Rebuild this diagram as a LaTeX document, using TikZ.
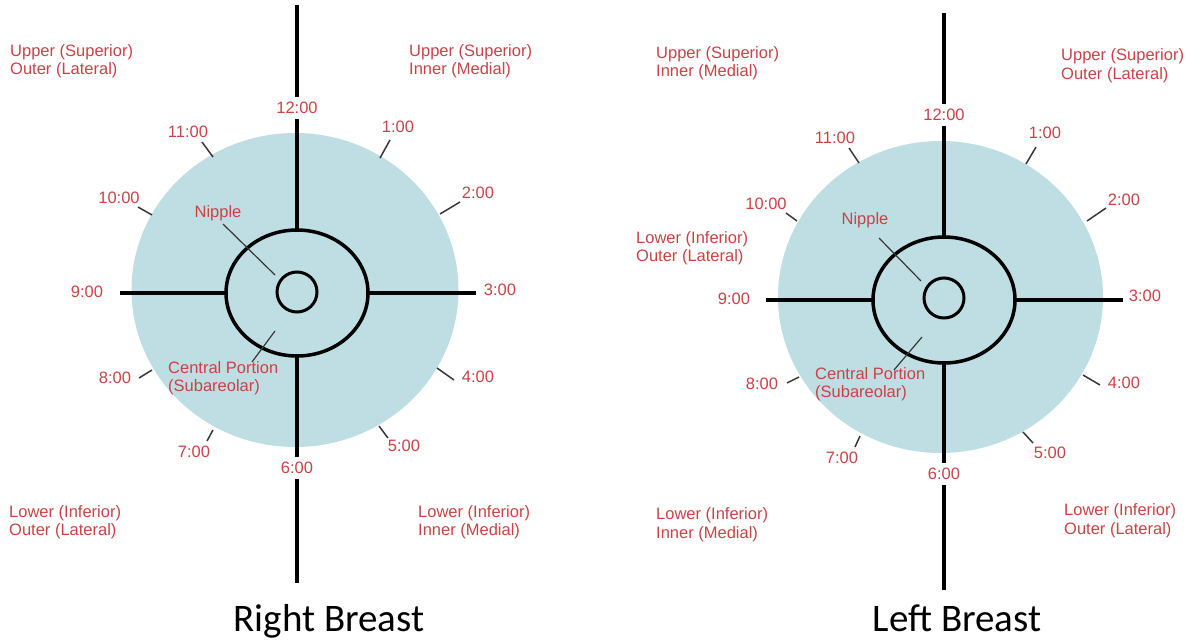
\documentclass[tikz,border=0pt]{standalone}
\usepackage{fontspec}
\setmainfont{Liberation Sans}
\newfontfamily\titlefont{Carlito}
\usetikzlibrary{shapes.geometric}
\definecolor{breastblue}{RGB}{190,222,228}
\definecolor{clockred}{RGB}{201,66,70}
\definecolor{tickgray}{RGB}{55,55,55}

\tikzset{
  lbl/.style={text=clockred, font=\fontsize{16.5}{18.5}\selectfont, inner sep=0pt},
  hour/.style={lbl, inner sep=4.5pt},
  zone/.style={lbl, align=left, anchor=west},
  axis/.style={line width=4pt, black},
  tickline/.style={line width=1.5pt, tickgray},
  leader/.style={line width=1.2pt, tickgray},
  disc/.style={ellipse, fill=breastblue, inner sep=0pt, outer sep=0pt},
  ring/.style={ellipse, draw=black, line width=3.5pt, inner sep=0pt, outer sep=0pt,
    minimum width=142pt, minimum height=126pt},
  nipple/.style={circle, draw=black, line width=3pt, inner sep=0pt, outer sep=0pt,
    minimum size=40pt},
  caption/.style={font=\titlefont\fontsize{39}{44}\selectfont, anchor=base}
}

\begin{document}
\begin{tikzpicture}[x=1pt, y=-1pt]
	\useasboundingbox (0,0) rectangle (1189,640);

	% right breast
	\node[disc, minimum width=327pt, minimum height=314pt] (rbdisc) at (295,290) {};
	\coordinate (rbtop) at (297,5);
	\coordinate (rbbot) at (297,583);
	\coordinate (rbwest) at (120,293);
	\coordinate (rbeast) at (476,293);
	\node[ring] (rbring) at (297,293) {};
	\node[nipple] (rbnip) at (297,292) {};
	\node[hour] (rb12) at (297,108) {12:00};
	\node[hour] (rb6) at (297,468) {6:00};
	\draw[axis] (rbtop) -- (rb12.north);
	\draw[axis] (rb12.south) -- (rbring.north);
	\draw[axis] (rbring.south) -- (rb6.north);
	\draw[axis] (rb6.south) -- (rbbot);
	\draw[axis] (rbwest) -- (rbring.west);
	\draw[axis] (rbring.east) -- (rbeast);

	\node[hour] (rb1) at (398,127) {1:00};
	\node[hour] (rb2) at (478,193) {2:00};
	\node[hour] (rb3) at (500,290) {3:00};
	\node[hour] (rb4) at (478,377) {4:00};
	\node[hour] (rb5) at (404,446) {5:00};
	\node[hour] (rb7) at (194,452) {7:00};
	\node[hour] (rb8) at (115,378) {8:00};
	\node[hour] (rb9) at (87,292) {9:00};
	\node[hour] (rb10) at (119,198) {10:00};
	\node[hour] (rb11) at (188,132) {11:00};
	\draw[tickline] (202,142) -- (213,157);
	\draw[tickline] (390,140) -- (380,158);
	\draw[tickline] (138,207) -- (152,215);
	\draw[tickline] (460,202) -- (440,214);
	\draw[tickline] (139,378) -- (152,370);
	\draw[tickline] (437,368) -- (454,380);
	\draw[tickline] (207,441) -- (213,430);
	\draw[tickline] (379,426) -- (388,438);

	\node[lbl] (rbniplbl) at (218,213) {Nipple};
	\coordinate (rbnipa) at (223,224);
	\coordinate (rbnipb) at (275,275);
	\draw[leader] (rbnipa) -- (rbnipb);
	\node[zone] (rbcentral) at (168,378) {Central Portion\\(Subareolar)};
	\coordinate (rbcena) at (252,362);
	\coordinate (rbcenb) at (275,331);
	\draw[leader] (rbcena) -- (rbcenb);

	\node[zone] (rbuo) at (10,61) {Upper (Superior)\\Outer (Lateral)};
	\node[zone] (rbui) at (409,61) {Upper (Superior)\\Inner (Medial)};
	\node[zone] (rblo) at (9,522) {Lower (Inferior)\\Outer (Lateral)};
	\node[zone] (rbli) at (418,522) {Lower (Inferior)\\Inner (Medial)};
	\node[caption] (rbtitle) at (329,631) {Right Breast};

	% left breast
	\node[disc, minimum width=325pt, minimum height=312pt] (lbdisc) at (940.5,297) {};
	\coordinate (lbtop) at (944,13);
	\coordinate (lbbot) at (944,590);
	\coordinate (lbwest) at (766,300);
	\coordinate (lbeast) at (1123,300);
	\node[ring] (lbring) at (944,300) {};
	\node[nipple] (lbnip) at (944,298) {};
	\node[hour] (lb12) at (944,115) {12:00};
	\node[hour] (lb6) at (944,474) {6:00};
	\draw[axis] (lbtop) -- (lb12.north);
	\draw[axis] (lb12.south) -- (lbring.north);
	\draw[axis] (lbring.south) -- (lb6.north);
	\draw[axis] (lb6.south) -- (lbbot);
	\draw[axis] (lbwest) -- (lbring.west);
	\draw[axis] (lbring.east) -- (lbeast);

	\node[hour] (lb1) at (1045,133) {1:00};
	\node[hour] (lb2) at (1124,200) {2:00};
	\node[hour] (lb3) at (1145,296) {3:00};
	\node[hour] (lb4) at (1124,383) {4:00};
	\node[hour] (lb5) at (1050,453) {5:00};
	\node[hour] (lb7) at (842,458) {7:00};
	\node[hour] (lb8) at (762,384) {8:00};
	\node[hour] (lb9) at (734,299) {9:00};
	\node[hour] (lb10) at (766,204) {10:00};
	\node[hour] (lb11) at (835,138) {11:00};
	\draw[tickline] (849,148) -- (859,163);
	\draw[tickline] (1036,147) -- (1026,164);
	\draw[tickline] (786,213) -- (797,221);
	\draw[tickline] (1106,208) -- (1087,221);
	\draw[tickline] (787,383) -- (799,377);
	\draw[tickline] (1083,375) -- (1100,385);
	\draw[tickline] (855,447) -- (860,436);
	\draw[tickline] (1023,432) -- (1033,443);

	\node[lbl] (lbniplbl) at (865,220) {Nipple};
	\coordinate (lbnipa) at (879,238);
	\coordinate (lbnipb) at (921,281);
	\draw[leader] (lbnipa) -- (lbnipb);
	\node[zone] (lbcentral) at (815,384) {Central Portion\\(Subareolar)};
	\coordinate (lbcena) at (894,370);
	\coordinate (lbcenb) at (922,337);
	\draw[leader] (lbcena) -- (lbcenb);

	\node[zone] (lbui) at (656,63) {Upper (Superior)\\Inner (Medial)};
	\node[zone] (lbuo) at (1061,65.5) {Upper (Superior)\\Outer (Lateral)};
	\node[zone] (lblo) at (636,248) {Lower (Inferior)\\Outer (Lateral)};
	\node[zone] (lbli) at (656,524.5) {Lower (Inferior)\\Inner (Medial)};
	\node[zone] (lblo2) at (1064,520.5) {Lower (Inferior)\\Outer (Lateral)};
	\node[caption] (lbtitle) at (957,631) {Left Breast};
\end{tikzpicture}
\end{document}
